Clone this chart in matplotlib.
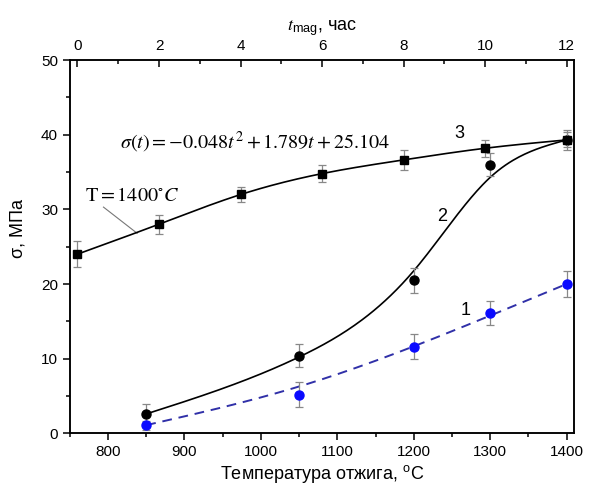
import numpy as np
import matplotlib.pyplot as plt
from matplotlib.ticker import MultipleLocator

plt.rcParams['font.family'] = ['Liberation Sans', 'DejaVu Sans']
plt.rcParams['mathtext.fontset'] = 'stix'

# curve 1 (blue) and curve 2 (black circles): sigma vs annealing temperature
temp = np.array([850, 1050, 1200, 1300, 1400])
sigma1 = np.array([1.1, 5.2, 11.6, 16.1, 20.0])
err1 = np.array([0.6, 1.7, 1.7, 1.6, 1.8])
sigma2 = np.array([2.6, 10.4, 20.5, 36.0, 39.3])
err2 = np.array([1.3, 1.5, 1.7, 1.5, 1.0])

# curve 3: sigma vs holding time at T = 1400 C
hours = np.array([0, 2, 4, 6, 8, 10, 12])
sigma3 = np.array([24.0, 28.0, 32.0, 34.8, 36.6, 38.2, 39.3])
err3 = np.array([1.7, 1.3, 1.05, 1.2, 1.3, 1.15, 1.3])


def smooth_curve(px, py, lam, end_w=1e4, n=221):
    # penalised (smoothing-spline like) curve on a fine grid, end points pinned
    px = np.asarray(px, float)
    span = px[-1] - px[0]
    grid = np.linspace(0, 1, n)
    h = grid[1] - grid[0]
    idx = np.rint((px - px[0]) / span / h).astype(int)
    w = np.ones(len(px))
    w[0] = w[-1] = end_w
    W = np.zeros(n)
    z = np.zeros(n)
    W[idx] = w
    z[idx] = w * np.asarray(py, float)
    D = np.diff(np.eye(n), 2, axis=0)
    y = np.linalg.solve(np.diag(W) + lam / h**3 * D.T @ D, z)
    return px[0] + grid * span, y


fig = plt.figure(figsize=(5.92, 4.88), dpi=100)
ax = fig.add_axes([0.118, 0.112, 0.852, 0.765])

# top axis: hours, 0 h sits at 760 C and 12 h at 1400 C
t_per_deg = 12 / (1400 - 760)
x_lo, x_hi = 750, 1410
ax.set_xlim(x_lo, x_hi)
ax.set_ylim(0, 50)
ax2 = ax.twiny()
ax2.set_xlim((x_lo - 760) * t_per_deg, (x_hi - 760) * t_per_deg)

ebar_kw = dict(ecolor='#888888', elinewidth=0.9, capsize=3, capthick=0.9, ls='none', zorder=3)

x, y = smooth_curve(temp, sigma1, 1e-2)
ax.plot(x, y, color='#3030a8', lw=1.4, dashes=(5, 3.5), zorder=2)
ax.errorbar(temp, sigma1, yerr=err1, marker='o', ms=6.5, mfc='#0a0aff', mec='#0a0aff', **ebar_kw)

x, y = smooth_curve(temp, sigma2, 3e-4)
ax.plot(x, y, color='black', lw=1.2, zorder=2)
ax.errorbar(temp, sigma2, yerr=err2, marker='o', ms=6.5, mfc='black', mec='black', **ebar_kw)

x, y = smooth_curve(hours, sigma3, 1e-4)
ax2.plot(x, y, color='black', lw=1.2, zorder=2)
ax2.errorbar(hours, sigma3, yerr=err3, marker='s', ms=5.5, mfc='black', mec='black', **ebar_kw)

# curve labels and fit equation
ax.text(1260, 40.2, '3', fontsize=13, ha='center', va='center')
ax.text(1237, 29.0, '2', fontsize=13, ha='center', va='center')
ax.text(1268, 16.4, '1', fontsize=13, ha='center', va='center')
ax.text(815, 38.9, r'$\sigma(t) = -0.048t^2 + 1.789t + 25.104$', fontsize=14.5,
        ha='left', va='center')
ax.text(770, 31.9, r'$\mathrm{T} = 1400^{\circ}C$', fontsize=14.5, ha='left', va='center')
ax.plot([794, 838], [30.3, 26.8], color='#777777', lw=0.8)

# axes styling
for a in (ax, ax2):
    for sp in a.spines.values():
        sp.set_linewidth(1.1)

ax.xaxis.set_major_locator(MultipleLocator(100))
ax.xaxis.set_minor_locator(MultipleLocator(50))
ax.yaxis.set_major_locator(MultipleLocator(10))
ax.yaxis.set_minor_locator(MultipleLocator(5))
ax.tick_params(which='major', direction='out', length=5, width=1.1, labelsize=11)
ax.tick_params(which='minor', direction='out', length=3, width=1.1)
ax.tick_params(axis='both', which='both', top=False, right=False)

ax2.xaxis.set_major_locator(MultipleLocator(2))
ax2.xaxis.set_minor_locator(MultipleLocator(1))
ax2.tick_params(which='major', direction='in', length=5, width=1.1, labelsize=11, pad=5)
ax2.tick_params(which='minor', direction='in', length=3, width=1.1)

ax.set_xlabel('Температура отжига, $\\mathregular{^{o}}$C', fontsize=13, labelpad=3)
ax.set_ylabel('σ, МПа', fontsize=13, labelpad=6)
ax.yaxis.set_label_coords(-0.085, 0.55)
ax2.set_xlabel(r'$t_{\mathregular{mag}}$, час', fontsize=13, labelpad=6)

fig.savefig('out.png', dpi=100)
